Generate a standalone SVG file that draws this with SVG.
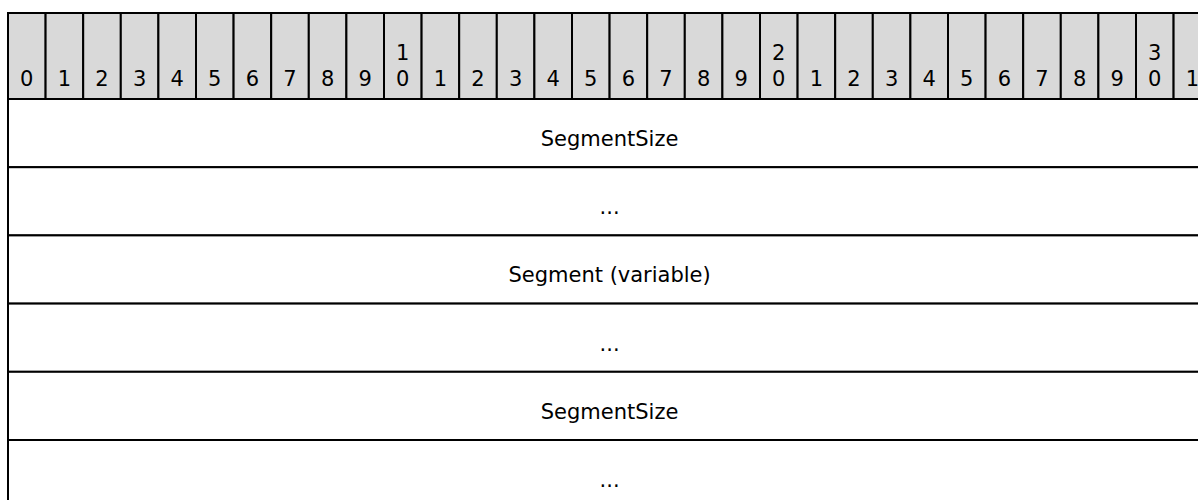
<svg xmlns="http://www.w3.org/2000/svg" width="1198" height="500" viewBox="0 0 1198 500">
<style>
.hdr{fill:#d9d9d9;stroke:#000;stroke-width:2}
.cell{fill:#fff;stroke:#000;stroke-width:2}
text{font-family:"DejaVu Sans",Verdana,sans-serif;font-size:21px;fill:#000;text-anchor:middle}
</style>
<rect width="1198" height="500" fill="#fff"/>
<g id="header">
<rect class="hdr" x="8" y="13" width="37.6" height="86"/>
<rect class="hdr" x="45.6" y="13" width="37.6" height="86"/>
<rect class="hdr" x="83.2" y="13" width="37.6" height="86"/>
<rect class="hdr" x="120.8" y="13" width="37.6" height="86"/>
<rect class="hdr" x="158.4" y="13" width="37.6" height="86"/>
<rect class="hdr" x="196" y="13" width="37.6" height="86"/>
<rect class="hdr" x="233.6" y="13" width="37.6" height="86"/>
<rect class="hdr" x="271.2" y="13" width="37.6" height="86"/>
<rect class="hdr" x="308.8" y="13" width="37.6" height="86"/>
<rect class="hdr" x="346.4" y="13" width="37.6" height="86"/>
<rect class="hdr" x="384" y="13" width="37.6" height="86"/>
<rect class="hdr" x="421.6" y="13" width="37.6" height="86"/>
<rect class="hdr" x="459.2" y="13" width="37.6" height="86"/>
<rect class="hdr" x="496.8" y="13" width="37.6" height="86"/>
<rect class="hdr" x="534.4" y="13" width="37.6" height="86"/>
<rect class="hdr" x="572" y="13" width="37.6" height="86"/>
<rect class="hdr" x="609.6" y="13" width="37.6" height="86"/>
<rect class="hdr" x="647.2" y="13" width="37.6" height="86"/>
<rect class="hdr" x="684.8" y="13" width="37.6" height="86"/>
<rect class="hdr" x="722.4" y="13" width="37.6" height="86"/>
<rect class="hdr" x="760" y="13" width="37.6" height="86"/>
<rect class="hdr" x="797.6" y="13" width="37.6" height="86"/>
<rect class="hdr" x="835.2" y="13" width="37.6" height="86"/>
<rect class="hdr" x="872.8" y="13" width="37.6" height="86"/>
<rect class="hdr" x="910.4" y="13" width="37.6" height="86"/>
<rect class="hdr" x="948" y="13" width="37.6" height="86"/>
<rect class="hdr" x="985.6" y="13" width="37.6" height="86"/>
<rect class="hdr" x="1023.2" y="13" width="37.6" height="86"/>
<rect class="hdr" x="1060.8" y="13" width="37.6" height="86"/>
<rect class="hdr" x="1098.4" y="13" width="37.6" height="86"/>
<rect class="hdr" x="1136" y="13" width="37.6" height="86"/>
<rect class="hdr" x="1173.6" y="13" width="37.6" height="86"/>
<text x="26.8" y="86">0</text>
<text x="64.4" y="86">1</text>
<text x="102" y="86">2</text>
<text x="139.6" y="86">3</text>
<text x="177.2" y="86">4</text>
<text x="214.8" y="86">5</text>
<text x="252.4" y="86">6</text>
<text x="290" y="86">7</text>
<text x="327.6" y="86">8</text>
<text x="365.2" y="86">9</text>
<text x="402.8" y="60">1</text><text x="402.8" y="86">0</text>
<text x="440.4" y="86">1</text>
<text x="478" y="86">2</text>
<text x="515.6" y="86">3</text>
<text x="553.2" y="86">4</text>
<text x="590.8" y="86">5</text>
<text x="628.4" y="86">6</text>
<text x="666" y="86">7</text>
<text x="703.6" y="86">8</text>
<text x="741.2" y="86">9</text>
<text x="778.8" y="60">2</text><text x="778.8" y="86">0</text>
<text x="816.4" y="86">1</text>
<text x="854" y="86">2</text>
<text x="891.6" y="86">3</text>
<text x="929.2" y="86">4</text>
<text x="966.8" y="86">5</text>
<text x="1004.4" y="86">6</text>
<text x="1042" y="86">7</text>
<text x="1079.6" y="86">8</text>
<text x="1117.2" y="86">9</text>
<text x="1154.8" y="60">3</text><text x="1154.8" y="86">0</text>
<text x="1192.4" y="86">1</text>
</g>
<g id="row1"><rect class="cell" x="8" y="99" width="1203.2" height="68.2"/><text x="609.6" y="146">SegmentSize</text></g>
<g id="row2"><rect class="cell" x="8" y="167.2" width="1203.2" height="68.2"/><text x="609.6" y="214">...</text></g>
<g id="row3"><rect class="cell" x="8" y="235.4" width="1203.2" height="68.2"/><text x="609.6" y="282">Segment (variable)</text></g>
<g id="row4"><rect class="cell" x="8" y="303.6" width="1203.2" height="68.2"/><text x="609.6" y="351">...</text></g>
<g id="row5"><rect class="cell" x="8" y="371.8" width="1203.2" height="68.2"/><text x="609.6" y="419">SegmentSize</text></g>
<g id="row6"><rect class="cell" x="8" y="440" width="1203.2" height="68.2"/><text x="609.6" y="487">...</text></g>
</svg>
